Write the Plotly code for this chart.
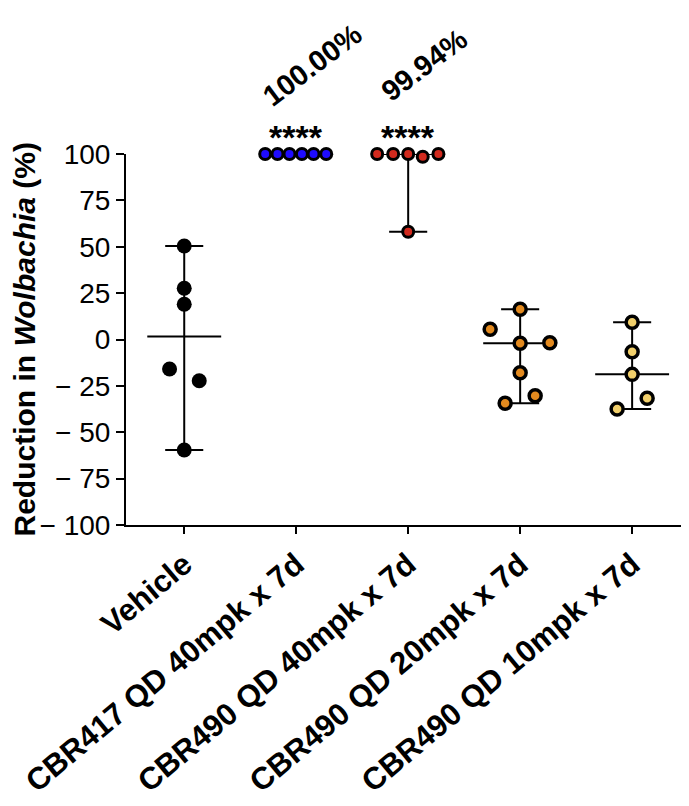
import numpy as np
import plotly.graph_objects as go

# ---- data ----
categories = ["Vehicle", "CBR417 QD 40mpk x 7d", "CBR490 QD 40mpk x 7d",
              "CBR490 QD 20mpk x 7d", "CBR490 QD 10mpk x 7d"]
vehicle = [50.4, 27.6, 19.0, -15.9, -22.2, -59.6]
cbr417_40 = [100, 100, 100, 100, 100, 100]
cbr490_40 = [100, 100, 100, 98.5, 100, 58.1]
cbr490_20 = [16.3, 5.5, -2.0, -1.7, -17.9, -30.3, -34.4]
cbr490_10 = [9.3, -6.6, -18.8, -31.7, -37.5]
groups = [vehicle, cbr417_40, cbr490_40, cbr490_20, cbr490_10]
significance = ["", "****", "****", "", ""]
pct_labels = ["", "100.00%", "99.94%", "", ""]
y_tickvals = [100, 75, 50, 25, 0, -25, -50, -75, -100]
y_ticktext = ["100", "75", "50", "25", "0", "\u2212 25", "\u2212 50", "\u2212 75", "\u2212 100"]

# scatter jitter (horizontal spread of the dots)
jitter = [
    [0, 0, 0, -0.131, 0.134, 0],
    [-0.277, -0.167, -0.06, 0.051, 0.155, 0.268],
    [-0.277, -0.134, 0, 0.13, 0.27, 0],
    [0, -0.268, 0, 0.265, 0, 0.134, -0.134],
    [0, 0, 0, 0.134, -0.134],
]

fill_colors = ["#000000", "#1f0cff", "#d22a1e", "#e38a1f", "#f1cf6b"]
FONT = "Liberation Sans, Arial, sans-serif"

fig = go.Figure()

# median with range lines
lx, ly = [], []
for i, vals in enumerate(groups):
    med = float(np.median(vals)); lo = float(np.min(vals)); hi = float(np.max(vals))
    mw, cw = 0.33, 0.17
    lx += [i - mw, i + mw, None, i, i, None, i - cw, i + cw, None, i - cw, i + cw, None]
    ly += [med, med, None, lo, hi, None, lo, lo, None, hi, hi, None]
fig.add_trace(go.Scatter(x=lx, y=ly, mode="lines", line=dict(color="black", width=2),
                         hoverinfo="skip", showlegend=False, cliponaxis=False))

for i, vals in enumerate(groups):
    xs = [i + j for j in jitter[i]]
    if i == 0:
        marker = dict(size=15, color="black", line=dict(width=0))
    elif i in (1, 2):
        marker = dict(size=11, color=fill_colors[i], line=dict(color="black", width=3))
    else:
        marker = dict(size=12, color=fill_colors[i], line=dict(color="black", width=3.5))
    fig.add_trace(go.Scatter(x=xs, y=vals, mode="markers", marker=marker,
                             name=categories[i], showlegend=False, cliponaxis=False))

annotations = []
for i, vals in enumerate(groups):
    if significance[i]:
        annotations.append(dict(x=i, y=max(vals), xref="x", yref="y", text="<b>%s</b>" % significance[i],
                                showarrow=False, yshift=17, font=dict(family=FONT, size=34, color="black")))
    if pct_labels[i]:
        annotations.append(dict(x=i + 0.143, y=max(vals), xref="x", yref="y", text="<b>%s</b>" % pct_labels[i],
                                showarrow=False, yshift=89, textangle=-37,
                                font=dict(family=FONT, size=29, color="black")))
annotations.append(dict(x=0, y=0.5, xref="paper", yref="paper", xanchor="center", yanchor="middle",
                        xshift=-102, text="<b>Reduction in <i>Wolbachia</i> (%)</b>", textangle=-90,
                        showarrow=False, font=dict(family=FONT, size=30, color="black")))

# page body has an 8px margin, so the figure is drawn 8px smaller and offset
fig.update_layout(
    width=681, height=798,
    margin=dict(l=118, r=2, t=146, b=281, autoexpand=False),
    paper_bgcolor="white", plot_bgcolor="white",
    font=dict(family=FONT, color="black"),
    annotations=annotations,
    showlegend=False,
)
fig.update_xaxes(range=[-0.52, 4.49], tickvals=list(range(len(categories))),
                 ticktext=["<b>%s</b>" % c for c in categories], tickangle=-40,
                 tickfont=dict(family=FONT, size=31, color="black"), automargin=False,
                 showline=True, linecolor="black", linewidth=2, ticks="outside",
                 ticklen=7, tickwidth=2, tickcolor="black", showgrid=False, zeroline=False)
fig.update_yaxes(range=[-100, 100], tickvals=y_tickvals, ticktext=y_ticktext,
                 tickfont=dict(family=FONT, size=28, color="black"), automargin=False,
                 showline=True, linecolor="black", linewidth=2, ticks="outside",
                 ticklen=8, tickwidth=2, tickcolor="black", showgrid=False, zeroline=False)

fig.write_html("out.html")
